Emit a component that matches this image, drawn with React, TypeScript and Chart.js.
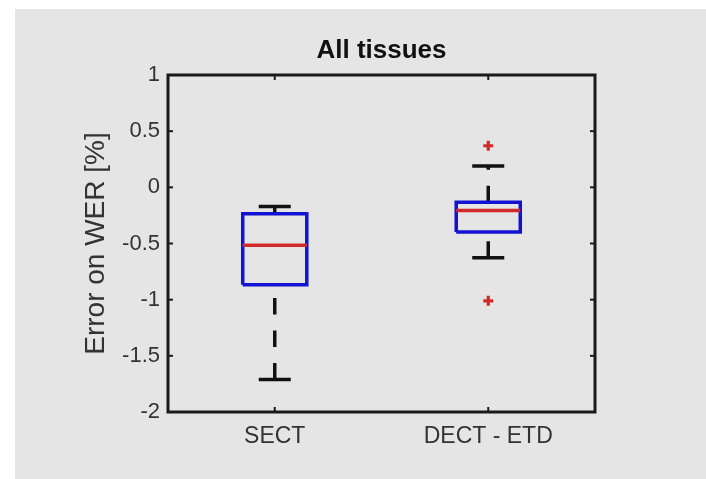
import React, { useEffect, useRef } from "react";
import { Chart, registerables } from "chart.js";

Chart.register(...registerables);

// ---- data ----
const categories = ["SECT", "DECT - ETD"];
const whiskerLow = [-1.71, -0.627];
const q1 = [-0.868, -0.397];
const median = [-0.515, -0.206];
const q3 = [-0.235, -0.132];
const whiskerHigh = [-0.17, 0.19];
const outliers: number[][] = [[], [0.37, -1.01]];
const yTicks = [-2, -1.5, -1, -0.5, 0, 0.5, 1];
const yTickLabels = ["-2", "-1.5", "-1", "-0.5", "0", "0.5", "1"];

// ---- style ----
const BOX_HALF = 0.15;
const CAP_HALF = 0.075;
const BLUE = "#1212d2";
const RED = "#d22a2a";
const BLACK = "#111111";
const FONT = "'Liberation Sans', Arial, sans-serif";

function lineDs(data: { x: number; y: number }[], color: string, width: number, dash: number[] = []) {
  return {
    type: "scatter" as const,
    data,
    showLine: true,
    borderColor: color,
    backgroundColor: color,
    borderWidth: width,
    borderDash: dash,
    borderCapStyle: "butt" as const,
    borderJoinStyle: "miter" as const,
    pointRadius: 0,
    pointHoverRadius: 0,
    fill: false,
  };
}

function buildDatasets() {
  const ds: any[] = [];
  categories.forEach((_, i) => {
    const x = i + 1;
    ds.push(lineDs([{ x: x - BOX_HALF, y: median[i] }, { x: x + BOX_HALF, y: median[i] }], RED, 3.5));
    ds.push(
      lineDs(
        [
          { x: x - BOX_HALF, y: q1[i] },
          { x: x + BOX_HALF, y: q1[i] },
          { x: x + BOX_HALF, y: q3[i] },
          { x: x - BOX_HALF, y: q3[i] },
          { x: x - BOX_HALF, y: q1[i] },
        ],
        BLUE,
        3.5
      )
    );
    ds.push(lineDs([{ x, y: whiskerLow[i] }, { x, y: q1[i] }], BLACK, 3.5, [16.5, 16]));
    ds.push(lineDs([{ x, y: q3[i] }, { x, y: whiskerHigh[i] }], BLACK, 3.5, [16.5, 16]));
    ds.push(lineDs([{ x: x - CAP_HALF, y: whiskerLow[i] }, { x: x + CAP_HALF, y: whiskerLow[i] }], BLACK, 3.5));
    ds.push(lineDs([{ x: x - CAP_HALF, y: whiskerHigh[i] }, { x: x + CAP_HALF, y: whiskerHigh[i] }], BLACK, 3.5));
    if (outliers[i].length) {
      ds.push({
        type: "scatter" as const,
        data: outliers[i].map((y) => ({ x, y })),
        showLine: false,
        pointStyle: "cross",
        pointRadius: 5,
        pointHoverRadius: 5,
        pointBorderWidth: 3.2,
        pointBorderColor: RED,
        pointBackgroundColor: RED,
      });
    }
  });
  return ds;
}

const framePlugin = {
  id: "frame",
  afterDatasetsDraw(chart: any) {
    const { ctx, chartArea: a, scales } = chart;
    ctx.save();
    ctx.strokeStyle = "#1a1a1a";
    ctx.lineWidth = 3;
    ctx.lineJoin = "miter";
    ctx.strokeRect(a.left, a.top, a.right - a.left, a.bottom - a.top);
    ctx.lineWidth = 2;
    const seg = (x1: number, y1: number, x2: number, y2: number) => {
      ctx.beginPath();
      ctx.moveTo(x1, y1);
      ctx.lineTo(x2, y2);
      ctx.stroke();
    };
    scales.y.ticks.forEach((t: any) => {
      const py = scales.y.getPixelForValue(t.value);
      seg(a.left, py, a.left + 5, py);
      seg(a.right - 5, py, a.right, py);
    });
    scales.x.ticks.forEach((t: any) => {
      const px = scales.x.getPixelForValue(t.value);
      seg(px, a.bottom, px, a.bottom - 5);
      seg(px, a.top, px, a.top + 5);
    });
    ctx.restore();
  },
};

export default function App() {
  const ref = useRef<HTMLCanvasElement | null>(null);

  useEffect(() => {
    document.body.style.margin = "0";
    if (!ref.current) return;
    const chart = new Chart(ref.current, {
      type: "scatter",
      data: { datasets: buildDatasets() },
      options: {
        animation: false,
        responsive: false,
        events: [],
        layout: { padding: { left: 0, right: 111, top: 0, bottom: 0 } },
        plugins: {
          legend: { display: false },
          tooltip: { enabled: false },
          title: {
            display: true,
            text: "All tissues",
            fullSize: false,
            color: "#111111",
            font: { family: FONT, size: 26, weight: "bold" },
            padding: { top: 35, bottom: 8.8 },
          },
        },
        scales: {
          x: {
            type: "linear",
            min: 0.5,
            max: 2.5,
            afterBuildTicks: (s: any) => {
              s.ticks = categories.map((_, i) => ({ value: i + 1 }));
            },
            afterFit: (s: any) => {
              s.height = 67;
            },
            grid: { display: false, drawTicks: false },
            border: { display: false },
            ticks: {
              autoSkip: false,
              maxRotation: 0,
              padding: 11,
              color: "#333333",
              font: { family: FONT, size: 23 },
              callback: (v: any) => categories[Number(v) - 1] ?? "",
            },
          },
          y: {
            type: "linear",
            min: -2,
            max: 1,
            afterBuildTicks: (s: any) => {
              s.ticks = yTicks.map((v) => ({ value: v }));
            },
            afterFit: (s: any) => {
              s.width = 168;
            },
            grid: { display: false, drawTicks: false },
            border: { display: false },
            ticks: {
              padding: 8,
              color: "#333333",
              font: { family: FONT, size: 22 },
              callback: (v: any) => yTickLabels[yTicks.indexOf(Number(v))] ?? "",
            },
            title: {
              display: true,
              text: "Error on WER [%]",
              color: "#333333",
              font: { family: FONT, size: 28 },
              padding: { top: 79, bottom: 0 },
            },
          },
        },
      },
      plugins: [framePlugin],
    } as any);
    return () => chart.destroy();
  }, []);

  return (
    <div style={{ position: "relative", width: 706, height: 479, background: "#ffffff", overflow: "hidden" }}>
      <div style={{ position: "absolute", left: 15, top: 9, right: 0, bottom: 0, background: "#e5e5e5" }} />
      <canvas ref={ref} width={706} height={479} style={{ position: "absolute", left: 0, top: 0, width: 706, height: 479 }} />
    </div>
  );
}
